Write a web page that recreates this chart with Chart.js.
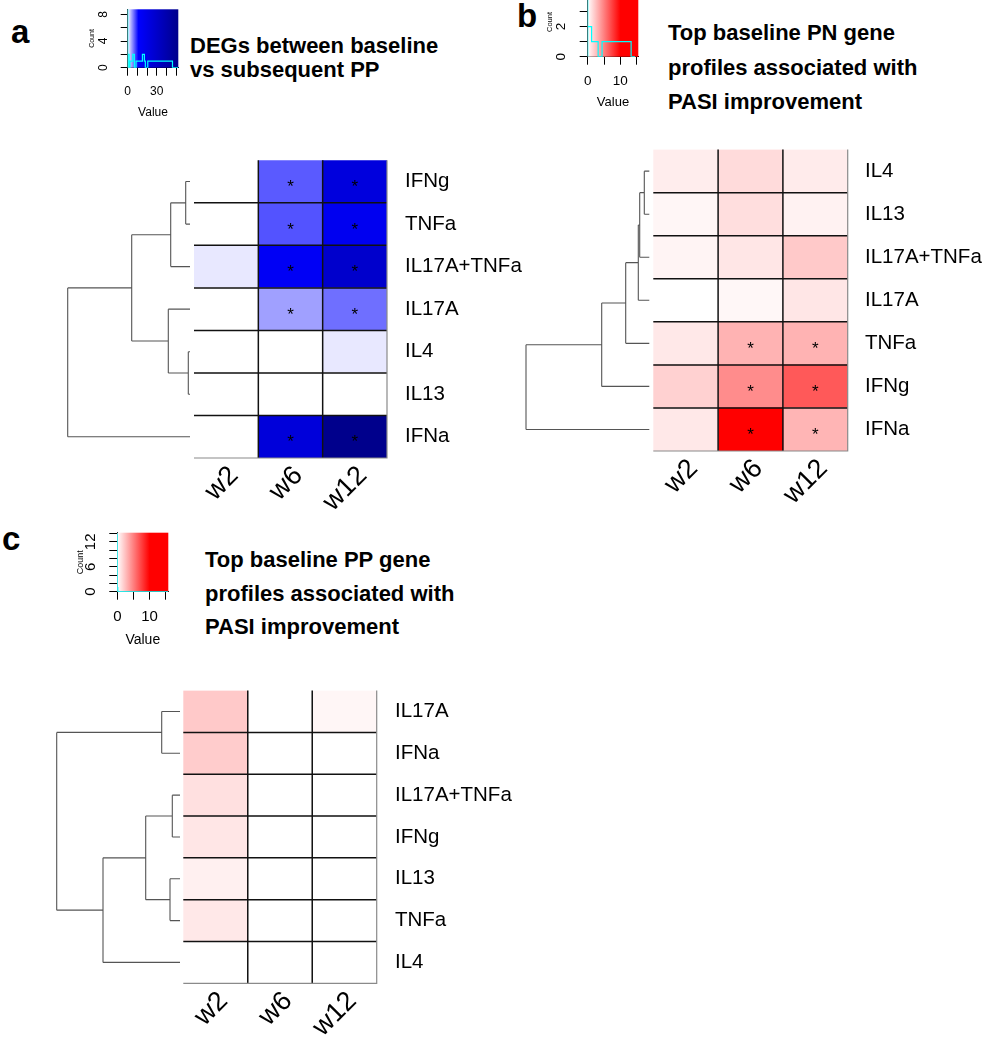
<!DOCTYPE html>
<html><head><meta charset="utf-8">
<script src="https://cdn.jsdelivr.net/npm/chart.js@4.4.1/dist/chart.umd.min.js"></script>
<style>
html,body{margin:0;padding:0;background:#fff;width:985px;height:1050px;overflow:hidden;}
#wrap{position:relative;width:985px;height:1050px;overflow:hidden;}
canvas{position:absolute;}
.t{position:absolute;font-family:'Liberation Sans',Arial,sans-serif;font-weight:bold;font-size:22px;color:#000;white-space:nowrap;}
.lt{position:absolute;font-family:'Liberation Sans',Arial,sans-serif;font-weight:bold;font-size:33px;line-height:33px;color:#000;}
</style></head><body><div id="wrap">
<div class="lt" style="left:11px;top:15px">a</div>
<div class="lt" style="left:517px;top:-1px">b</div>
<div class="lt" style="left:2px;top:522px">c</div>
<div class="t" style="left:190px;top:34px;line-height:24px">DEGs between baseline<br>vs subsequent PP</div>
<div class="t" style="left:668px;top:16px;line-height:34.5px">Top baseline PN gene<br>profiles associated with<br>PASI improvement</div>
<div class="t" style="left:205px;top:543px;line-height:33.5px">Top baseline PP gene<br>profiles associated with<br>PASI improvement</div>
<canvas id="ha" width="560" height="410" style="left:0px;top:130px"></canvas>
<canvas id="hb" width="485" height="420" style="left:500px;top:120px"></canvas>
<canvas id="hc" width="560" height="390" style="left:0px;top:660px"></canvas>
<canvas id="ka" width="110" height="125" style="left:80px;top:0px"></canvas>
<canvas id="kb" width="130" height="135" style="left:540px;top:-20px"></canvas>
<canvas id="kc" width="190" height="135" style="left:0px;top:520px"></canvas>
</div>
<script>
// ---------------- DATA ----------------
const weeks = ['w2', 'w6', 'w12'];

// Panel a: DEGs between baseline vs subsequent PP (blue scale)
const genesA = ['IFNg', 'TNFa', 'IL17A+TNFa', 'IL17A', 'IL4', 'IL13', 'IFNa'];
const aW2  = [0,   0,    1.0,  0,   0,   0, 0];
const aW6  = [7.1, 7.4,  14.6, 4.1, 0,   0, 24];
const aW12 = [23,  16.3, 29,   6.2, 1.0, 0, 52];
const aStarW2  = [0, 0, 0, 0, 0, 0, 0];
const aStarW6  = [1, 1, 1, 1, 0, 0, 1];
const aStarW12 = [1, 1, 1, 1, 0, 0, 1];
const aMerges = [[-1, -2, 4.3], [1, -3, 19.3], [-5, -6, 1.7], [-4, 3, 21.7], [2, 4, 58.3], [5, -7, 122.3]];

// Panel b: Top baseline PN gene profiles (red scale)
const genesB = ['IL4', 'IL13', 'IL17A+TNFa', 'IL17A', 'TNFa', 'IFNg', 'IFNa'];
const bW2  = [0.7, 0.35, 0.45, 0,   0.9, 1.8, 0.9];
const bW6  = [1.4, 1.3,  1.0,  0.3, 3.0, 4.5, 15.5];
const bW12 = [0.8, 0.5,  2.1,  1.0, 3.0, 6.5, 2.9];
const bStarW2  = [0, 0, 0, 0, 0, 0, 0];
const bStarW6  = [0, 0, 0, 0, 1, 1, 1];
const bStarW12 = [0, 0, 0, 0, 1, 1, 1];
const bMerges = [[-1, -2, 5], [1, -3, 9.6], [2, -4, 11], [3, -5, 23.6], [4, -6, 47.6], [5, -7, 123.3]];

// Panel c: Top baseline PP gene profiles (red scale)
const genesC = ['IL17A', 'IFNa', 'IL17A+TNFa', 'IFNg', 'IL13', 'TNFa', 'IL4'];
const cW2  = [2.1,  2.0, 1.2, 1.0, 0.6, 0.9, 0];
const cW6  = [0,    0,   0,   0,   0,   0,   0];
const cW12 = [0.35, 0,   0,   0,   0,   0,   0];
const cStarW2  = [0, 0, 0, 0, 0, 0, 0];
const cStarW6  = [0, 0, 0, 0, 0, 0, 0];
const cStarW12 = [0, 0, 0, 0, 0, 0, 0];
const cMerges = [[-1, -2, 18.3], [-3, -4, 7.7], [-5, -6, 10], [2, 3, 34.3], [4, -7, 77], [1, 5, 123.3]];

// Colour keys (histograms read from the keys)
const aHistEdges  = [0, 1.4, 2.4, 5.2, 6.9, 8.6, 15.2, 17.2, 18.2, 20.7, 46.2, 52.2];
const aHistCounts = [9, 2, 0, 1, 2, 0, 1, 2, 1, 0, 1];
const aKeyXTicks  = [0, 10, 20, 30, 40, 50];
const aKeyXLabels = ['0', '', '', '30', '', ''];
const aKeyYTicks  = [0, 2, 4, 6, 8];
const aKeyYLabels = ['0', '', '4', '', '8'];

const bHistEdges  = [0, 0.7, 1.2, 1.9, 3.2, 4.4, 13.3, 14.5];
const bHistCounts = [7, 2, 2, 1, 1, 0, 1];
const bKeyXTicks  = [0, 5, 10, 15];
const bKeyXLabels = ['0', '', '10', ''];
const bKeyYTicks  = [0, 1, 2, 3, 4];
const bKeyYLabels = ['0', '', '2', '', '4'];

const cHistEdges  = [0, 0.15, 1.15, 15.8];
const cHistCounts = [14, 1, 0];
const cKeyXTicks  = [0, 5, 10, 15];
const cKeyXLabels = ['0', '', '10', ''];
const cKeyYTicks  = [0, 2, 4, 6, 8, 10, 12, 14];
const cKeyYLabels = ['0', '', '', '6', '', '', '12', ''];

// colour scales
const blueStops = [[0, [255, 255, 255]], [11, [0, 0, 255]], [52.2, [0, 0, 139]]];
const redStops  = [[0, [255, 255, 255]], [10, [255, 0, 0]], [16, [255, 0, 0]]];

// ---------------- HELPERS ----------------
const FAM = "'Liberation Sans', Arial, sans-serif";
Chart.defaults.font.family = FAM;
Chart.defaults.color = '#000';

function colorFor(v, stops) {
  const rgb = c => 'rgb(' + c.map(Math.round).join(',') + ')';
  if (v <= stops[0][0]) return rgb(stops[0][1]);
  for (let i = 1; i < stops.length; i++) {
    if (v <= stops[i][0]) {
      const t = (v - stops[i - 1][0]) / (stops[i][0] - stops[i - 1][0]);
      const a = stops[i - 1][1], b = stops[i][1];
      return rgb(a.map((x, k) => x + (b[k] - x) * t));
    }
  }
  return rgb(stops[stops.length - 1][1]);
}

const heatPlugin = {
  id: 'heatDeco',
  afterDatasetsDraw(chart, args, opts) {
    const ctx = chart.ctx, xs = chart.scales.x, ys = chart.scales.y, ca = chart.chartArea;
    const n = chart.data.labels.length, m = chart.data.datasets.length;
    const rowEdge = i => (i <= 0) ? ys.getPixelForValue(0) - (ys.getPixelForValue(1) - ys.getPixelForValue(0)) / 2
                                  : (ys.getPixelForValue(i - 1) + ys.getPixelForValue(i)) / 2;
    const top = rowEdge(0);
    const bottom = ys.getPixelForValue(n - 1) + (ys.getPixelForValue(1) - ys.getPixelForValue(0)) / 2;
    const left = xs.getPixelForValue(0), right = xs.getPixelForValue(m);
    ctx.save();
    // stars
    ctx.fillStyle = '#000';
    ctx.font = '17px ' + FAM;
    ctx.textAlign = 'center';
    ctx.textBaseline = 'alphabetic';
    opts.stars.forEach((col, j) => col.forEach((s, i) => {
      if (s) ctx.fillText('*', xs.getPixelForValue(j + 0.5), ys.getPixelForValue(i) + 10.7);
    }));
    // separators
    ctx.strokeStyle = '#111';
    ctx.lineWidth = 1.5;
    ctx.beginPath();
    for (let j = 1; j < m; j++) { const x = xs.getPixelForValue(j); ctx.moveTo(x, top); ctx.lineTo(x, bottom); }
    for (let i = 1; i < n; i++) { const y = rowEdge(i); ctx.moveTo(left, y); ctx.lineTo(right, y); }
    ctx.stroke();
    ctx.strokeStyle = '#8a8a8a';
    ctx.lineWidth = 1.2;
    ctx.beginPath();
    ctx.moveTo(right, top); ctx.lineTo(right, bottom); ctx.lineTo(left, bottom);
    ctx.stroke();
    // dendrogram
    const merges = opts.merges;
    const rootH = merges[merges.length - 1][2];
    const x0 = ca.left - opts.gap;
    const hx = h => x0 - h / rootH * opts.width;
    const nodes = [];
    const pos = r => r < 0 ? {x: x0, y: ys.getPixelForValue(-r - 1)} : nodes[r - 1];
    ctx.strokeStyle = '#555';
    ctx.lineWidth = 1.1;
    ctx.beginPath();
    merges.forEach(([a, b, h]) => {
      const pa = pos(a), pb = pos(b), x = hx(h);
      ctx.moveTo(pa.x, pa.y); ctx.lineTo(x, pa.y);
      ctx.moveTo(pb.x, pb.y); ctx.lineTo(x, pb.y);
      ctx.moveTo(x, pa.y); ctx.lineTo(x, pb.y);
      nodes.push({x: x, y: (pa.y + pb.y) / 2});
    });
    ctx.stroke();
    ctx.restore();
  }
};

function heatmap(id, genes, cols, stars, merges, stops, lay) {
  new Chart(document.getElementById(id), {
    type: 'bar',
    data: {
      labels: genes,
      datasets: cols.map((vals, j) => ({
        label: weeks[j],
        data: genes.map(() => 1),
        backgroundColor: vals.map(v => colorFor(v, stops)),
        borderWidth: 0,
        barPercentage: 1,
        categoryPercentage: 1
      }))
    },
    options: {
      indexAxis: 'y',
      responsive: false,
      animation: false,
      events: [],
      layout: {padding: {left: lay.left, top: lay.top, right: 0, bottom: 0}},
      plugins: {
        legend: {display: false},
        tooltip: {enabled: false},
        heatDeco: {stars: stars, merges: merges, gap: lay.gap, width: lay.dw}
      },
      scales: {
        x: {
          type: 'linear', stacked: true, min: 0, max: cols.length, position: 'bottom',
          grid: {display: false, drawTicks: false}, border: {display: false},
          afterBuildTicks: s => { s.ticks = weeks.map((w, j) => ({value: j + 0.5})); },
          ticks: {
            callback: (v, i) => weeks[i], autoSkip: false,
            minRotation: 45, maxRotation: 45, padding: lay.xpad, labelOffset: lay.xoff,
            font: {size: 27}, color: '#000'
          },
          afterFit: s => { s.height = lay.xh; }
        },
        y: {
          type: 'category', stacked: true, position: 'right',
          grid: {display: false, drawTicks: false}, border: {display: false},
          ticks: {font: {size: 20.5}, color: '#000', padding: lay.ypad, autoSkip: false},
          afterFit: s => { s.width = lay.yw; }
        }
      }
    },
    plugins: [heatPlugin]
  });
}

const keyPlugin = {
  id: 'keyDeco',
  beforeDatasetsDraw(chart, args, opts) {
    const ctx = chart.ctx, xs = chart.scales.x, ca = chart.chartArea;
    const g = ctx.createLinearGradient(ca.left, 0, ca.right, 0);
    opts.stops.forEach(([v, c]) => {
      const off = Math.min(1, Math.max(0, (xs.getPixelForValue(v) - ca.left) / (ca.right - ca.left)));
      g.addColorStop(off, 'rgb(' + c.join(',') + ')');
    });
    ctx.save();
    ctx.fillStyle = g;
    ctx.fillRect(ca.left, ca.top, ca.right - ca.left, ca.bottom - ca.top);
    ctx.restore();
  },
  afterDraw(chart, args, opts) {
    const ctx = chart.ctx, ys = chart.scales.y;
    ctx.save();
    ctx.fillStyle = '#000';
    ctx.font = opts.fs + 'px ' + FAM;
    ctx.textAlign = 'center';
    ctx.textBaseline = 'middle';
    opts.yTicks.forEach((t, i) => {
      if (!opts.yLabels[i]) return;
      ctx.save();
      ctx.translate(opts.lx, ys.getPixelForValue(t));
      ctx.rotate(-Math.PI / 2);
      ctx.fillText(opts.yLabels[i], 0, 0);
      ctx.restore();
    });
    ctx.restore();
  }
};

function colorKey(id, edges, counts, xTicks, xLabels, yTicks, yLabels, stops, k) {
  const pts = [{x: edges[0], y: 0}];
  counts.forEach((c, i) => pts.push({x: edges[i], y: c}));
  pts.push({x: edges[edges.length - 1], y: 0});
  new Chart(document.getElementById(id), {
    type: 'line',
    data: {datasets: [{data: pts, stepped: 'after', borderColor: '#00FFFF', borderWidth: 1.2, pointRadius: 0, fill: false}]},
    options: {
      responsive: false, animation: false, events: [],
      layout: {padding: {left: 0, top: k.top, right: k.right, bottom: 0}},
      plugins: {legend: {display: false}, tooltip: {enabled: false},
        keyDeco: {stops: stops, yTicks: yTicks, yLabels: yLabels, lx: k.lx, fs: k.fs}},
      scales: {
        x: {
          type: 'linear', min: 0, max: k.xmax,
          afterBuildTicks: s => { s.ticks = xTicks.map(v => ({value: v})); },
          ticks: {callback: (v, i) => xLabels[i], autoSkip: false, maxRotation: 0, padding: k.xpad, font: {size: k.fs}, color: '#000'},
          grid: {drawOnChartArea: false, drawTicks: true, tickLength: 8, color: '#000'},
          border: {display: true, color: '#000'},
          title: {display: true, text: 'Value', font: {size: k.vfs}, color: '#000', padding: {top: 0, bottom: k.vpad}},
          afterFit: s => { s.height = k.xh; }
        },
        y: {
          type: 'linear', min: 0, max: k.ymax,
          afterBuildTicks: s => { s.ticks = yTicks.map(v => ({value: v})); },
          ticks: {display: false},
          grid: {drawOnChartArea: false, drawTicks: true, tickLength: k.tl, color: '#000'},
          border: {display: true, color: '#000'},
          title: {display: true, text: 'Count', font: {size: k.cfs}, color: '#000', padding: {top: k.cpad, bottom: 0}},
          afterFit: s => { s.width = k.yw; }
        }
      }
    },
    plugins: [keyPlugin]
  });
}

// ---------------- CHARTS ----------------
heatmap('ha', genesA, [aW2, aW6, aW12], [aStarW2, aStarW6, aStarW12], aMerges, blueStops,
  {left: 194, top: 18, xh: 82, yw: 173, ypad: 18, xpad: 2, xoff: 8, gap: 4, dw: 122.3});
heatmap('hb', genesB, [bW2, bW6, bW12], [bStarW2, bStarW6, bStarW12], bMerges, redStops,
  {left: 153.3, top: 18.3, xh: 89, yw: 137.3, ypad: 17.3, xpad: 2, xoff: 8, gap: 4, dw: 123.3});
heatmap('hc', genesC, [cW2, cW6, cW12], [cStarW2, cStarW6, cStarW12], cMerges, redStops,
  {left: 183.3, top: 14, xh: 66.7, yw: 183.3, ypad: 18.3, xpad: 2, xoff: 8, gap: 3.3, dw: 123.3});

colorKey('ka', aHistEdges, aHistCounts, aKeyXTicks, aKeyXLabels, aKeyYTicks, aKeyYLabels, blueStops,
  {top: 9.3, right: 11.7, xmax: 52.2, ymax: 8.75, xh: 57.3, yw: 47.7, xpad: 8.8, fs: 12, vfs: 12, vpad: 4.8, cfs: 7, cpad: 8.1, lx: 23.3, tl: 7});
colorKey('kb', bHistEdges, bHistCounts, bKeyXTicks, bKeyXLabels, bKeyYTicks, bKeyYLabels, redStops,
  {top: 7.3, right: 31.7, xmax: 15.5, ymax: 4.6, xh: 58.3, yw: 47.7, xpad: 8.9, fs: 13.5, vfs: 13, vpad: 5.2, cfs: 7.5, cpad: 5.5, lx: 21, tl: 8});
colorKey('kc', cHistEdges, cHistCounts, cKeyXTicks, cKeyXLabels, cKeyYTicks, cKeyYLabels, redStops,
  {top: 12.7, right: 21.7, xmax: 15.8, ymax: 14.2, xh: 63.3, yw: 117.3, xpad: 8.6, fs: 15, vfs: 14, vpad: 6.6, cfs: 9, cpad: 75.6, lx: 91, tl: 8});
</script>
</body></html>
